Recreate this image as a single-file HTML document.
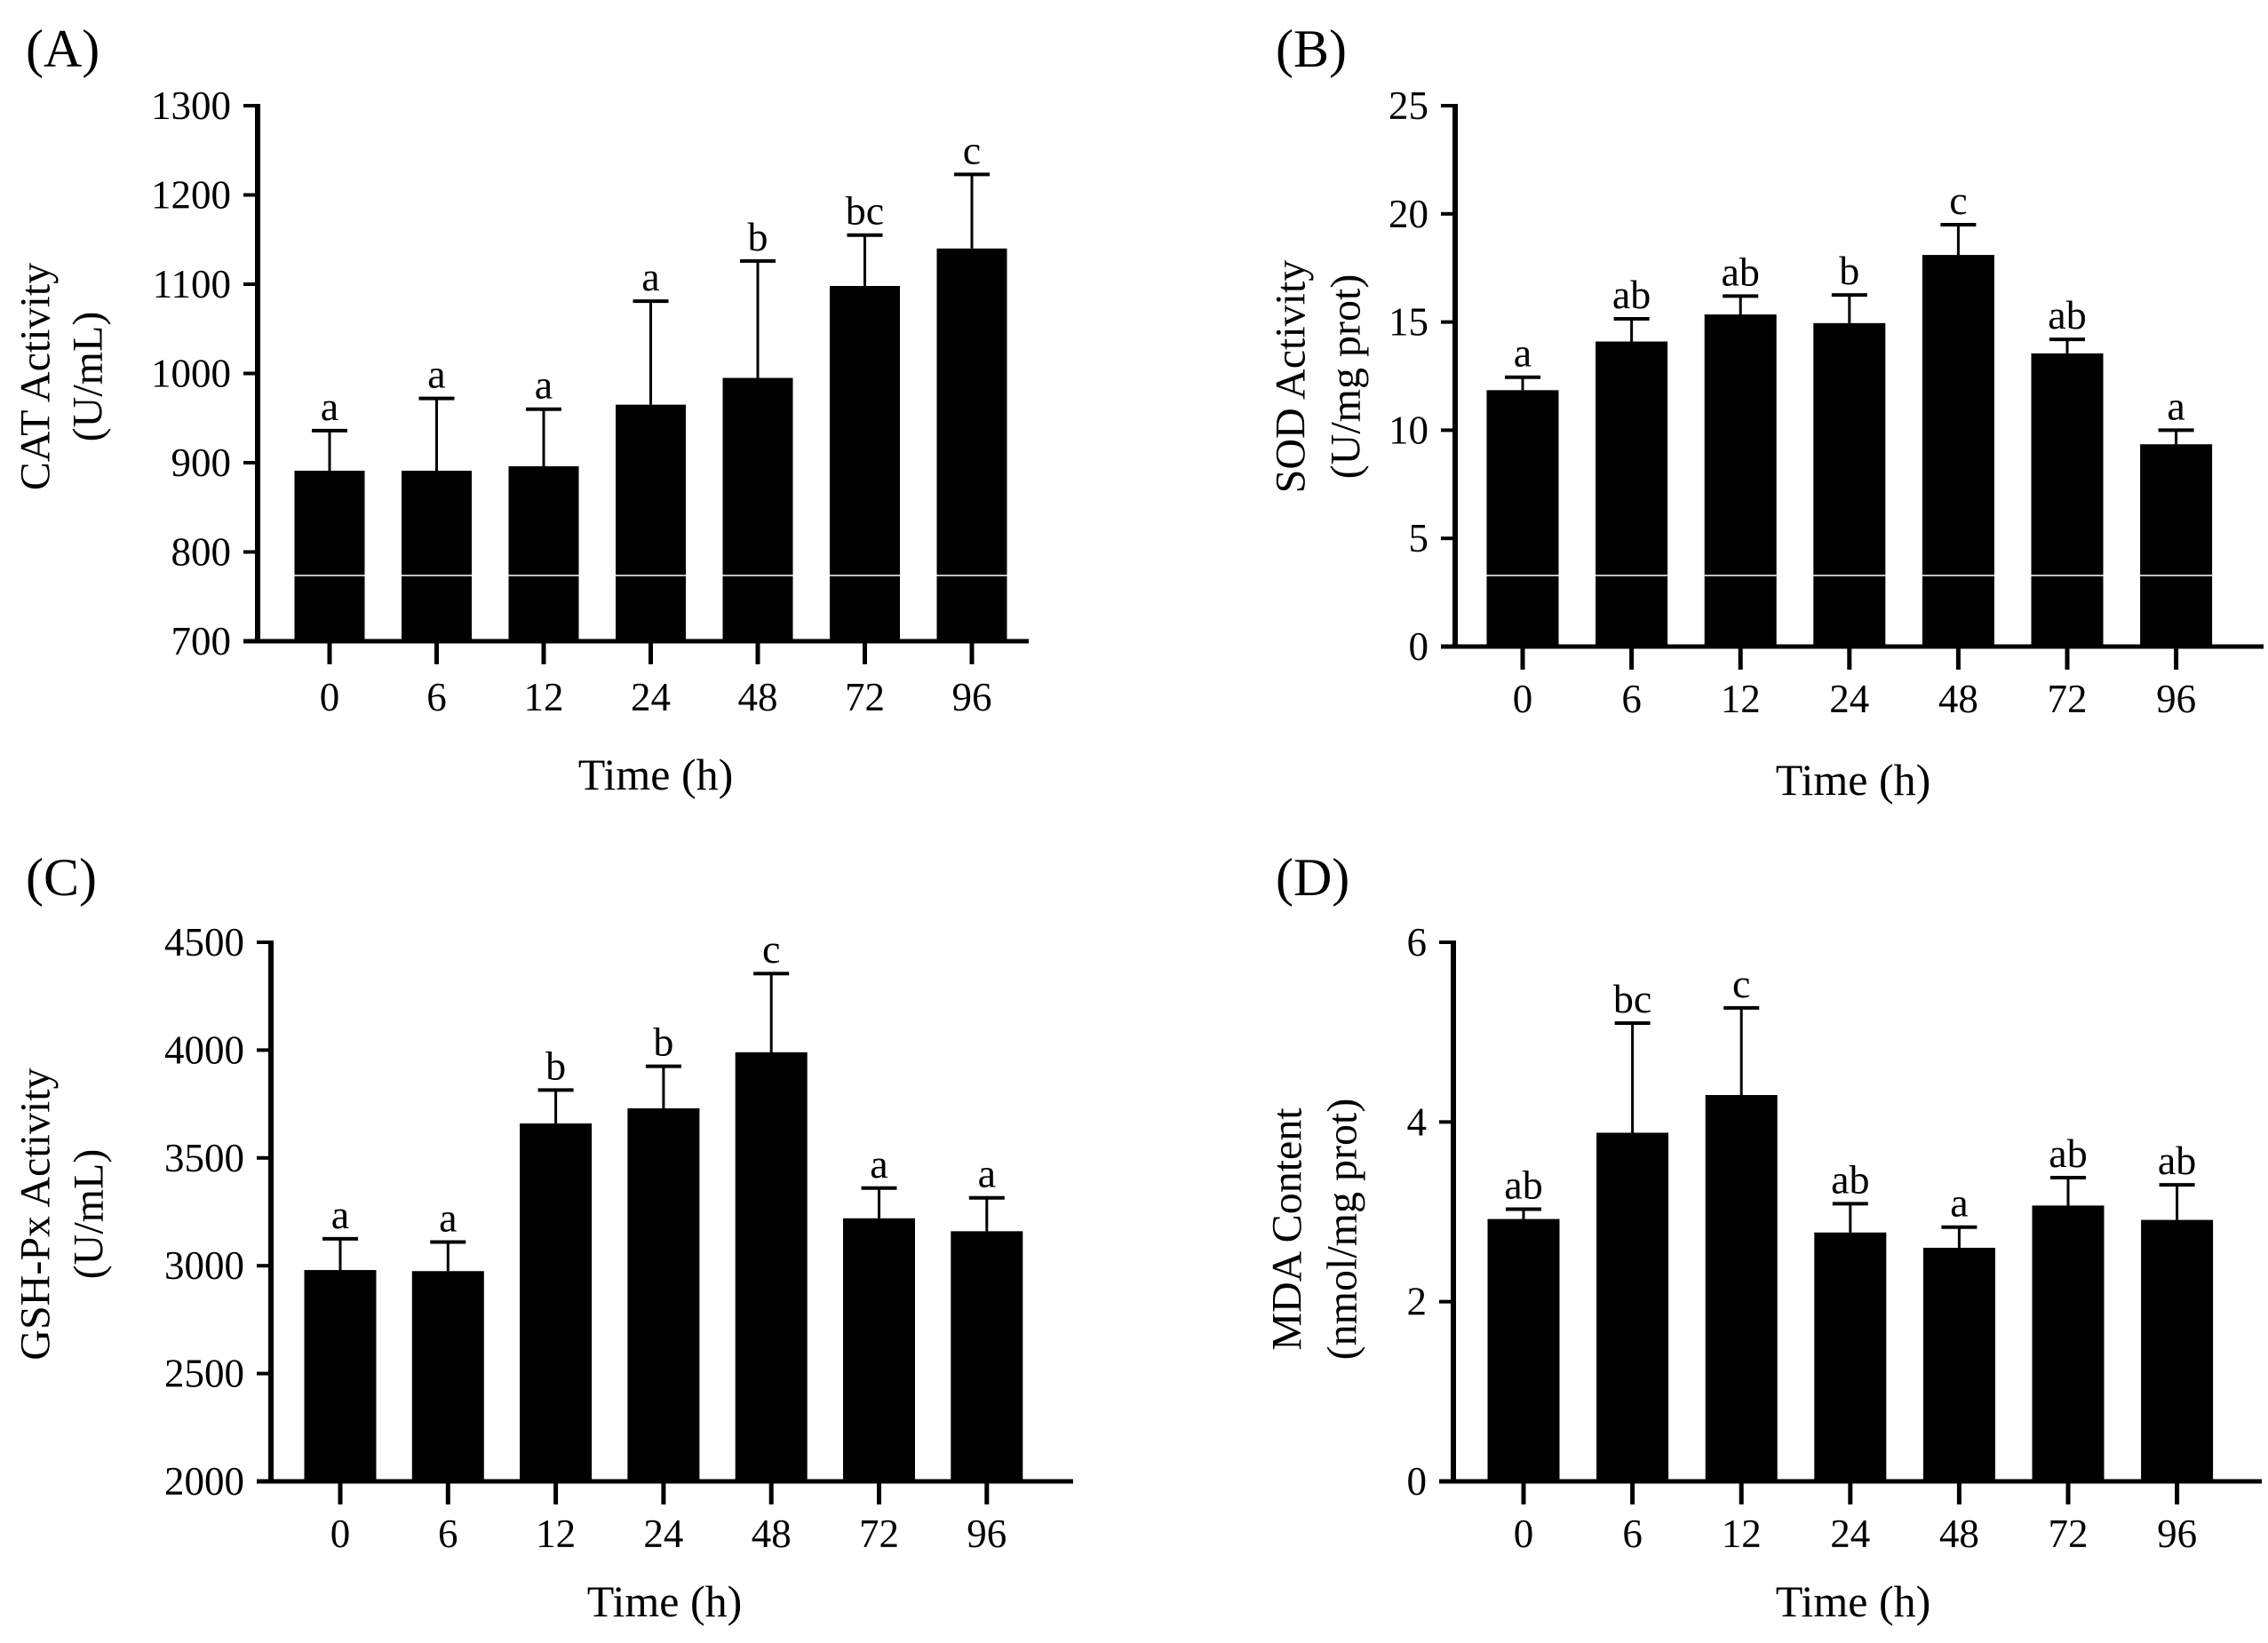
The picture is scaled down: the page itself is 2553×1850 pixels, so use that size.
<!DOCTYPE html>
<html><head><meta charset="utf-8"><style>
html,body{margin:0;padding:0;background:#fff}
svg{display:block}
text{font-family:"Liberation Serif",serif;fill:#000}
</style></head><body>
<svg id="fig" width="2553" height="1850" viewBox="0 0 2553 1850" xmlns="http://www.w3.org/2000/svg"></svg>
<script>
const categories = ["0","6","12","24","48","72","96"];
const catValues = [891, 891, 896, 965, 995, 1098, 1140];
const catErrTop = [936, 972, 960, 1081, 1126, 1155, 1223];
const catLetters = ["a","a","a","a","b","bc","c"];
const catTicks = [700, 800, 900, 1000, 1100, 1200, 1300];
const sodValues = [11.85, 14.1, 15.35, 14.95, 18.1, 13.55, 9.35];
const sodErrTop = [12.45, 15.15, 16.2, 16.25, 19.5, 14.2, 10.0];
const sodLetters = ["a","ab","ab","b","c","ab","a"];
const sodTicks = [0, 5, 10, 15, 20, 25];
const gshValues = [2980, 2975, 3660, 3730, 3990, 3220, 3160];
const gshErrTop = [3125, 3110, 3815, 3925, 4355, 3360, 3315];
const gshLetters = ["a","a","b","b","c","a","a"];
const gshTicks = [2000, 2500, 3000, 3500, 4000, 4500];
const mdaValues = [2.92, 3.88, 4.3, 2.77, 2.6, 3.07, 2.91];
const mdaErrTop = [3.03, 5.1, 5.27, 3.09, 2.83, 3.38, 3.3];
const mdaLetters = ["ab","bc","c","ab","a","ab","ab"];
const mdaTicks = [0, 2, 4, 6];

const NS = "http://www.w3.org/2000/svg";
const svg = document.getElementById('fig');
function mk(tag, attrs, parent){const e=document.createElementNS(NS,tag);for(const k in attrs)e.setAttribute(k,attrs[k]);(parent||svg).appendChild(e);return e;}

const panels = [
 {id:'a',label:'(A)',lx:29,ly:75,ax:290,xEnd:1158,yTop:119,yBot:722,x0:371,step:120.5,bw:79,
  vals:catValues,errs:catErrTop,lets:catLetters,ticks:catTicks,t1:'CAT Activity',t2:'(U/mL)',tx1:40,tx2:99,tcy:424,tickBase:800,timeX:738,timeY:889,white:true},
 {id:'b',label:'(B)',lx:1436,ly:75,ax:1638,xEnd:2548,yTop:119,yBot:728,x0:1714,step:122.6,bw:81,
  vals:sodValues,errs:sodErrTop,lets:sodLetters,ticks:sodTicks,t1:'SOD Activity',t2:'(U/mg prot)',tx1:1453,tx2:1515,tcy:424,tickBase:802,timeX:2086,timeY:895,white:true},
 {id:'c',label:'(C)',lx:29,ly:1008,ax:305,xEnd:1208,yTop:1061,yBot:1668,x0:383,step:121.3,bw:81,
  vals:gshValues,errs:gshErrTop,lets:gshLetters,ticks:gshTicks,t1:'GSH-Px Activity',t2:'(U/mL)',tx1:40,tx2:100,tcy:1367,tickBase:1742,timeX:748,timeY:1820,white:false},
 {id:'d',label:'(D)',lx:1436,ly:1008,ax:1636,xEnd:2546,yTop:1061,yBot:1668,x0:1715,step:122.6,bw:81,
  vals:mdaValues,errs:mdaErrTop,lets:mdaLetters,ticks:mdaTicks,t1:'MDA Content',t2:'(nmol/mg prot)',tx1:1449,tx2:1511,tcy:1384,tickBase:1742,timeX:2086,timeY:1820,white:false}
];

panels.forEach(p=>{
  const g = mk('g',{});
  
  
  const lo = p.ticks[0], hi = p.ticks[p.ticks.length-1];
  const yS = v => p.yBot - (v-lo)/(hi-lo)*(p.yBot-p.yTop);
  const xS = i => p.x0 + i*p.step;

  const lab = mk('text',{x:p.lx,y:p.ly,'font-size':60},g); lab.textContent=p.label;
  
  

  p.vals.forEach((v,i)=>{
    const cx=xS(i), top=yS(v), et=yS(p.errs[i]);
    const eb = mk('line',{x1:cx,x2:cx,y1:top,y2:et,stroke:'#000','stroke-width':3},g);
    
    
    const cap = mk('line',{x1:cx-20,x2:cx+20,y1:et,y2:et,stroke:'#000','stroke-width':4},g);
    
    
    const r = mk('rect',{x:cx-p.bw/2,y:top,width:p.bw,height:p.yBot-top,fill:'#000'},g);
    
    
    const t = mk('text',{x:cx,y:et-12,'font-size':46,'text-anchor':'middle'},g); t.textContent=p.lets[i];
    
    
    if(p.white){
      const w = mk('line',{x1:cx-p.bw/2,x2:cx+p.bw/2,y1:648,y2:648,stroke:'#fff','stroke-width':1.5},g);
      
      
    }
    const xt = mk('line',{x1:cx,x2:cx,y1:p.yBot,y2:p.yBot+26,stroke:'#000','stroke-width':5},g);
    
    
    const xl = mk('text',{x:cx,y:p.tickBase,'font-size':45,'text-anchor':'middle'},g); xl.textContent=categories[i];
    
    
  });

  const ya = mk('line',{x1:p.ax,x2:p.ax,y1:p.yTop-2,y2:p.yBot+2,stroke:'#000','stroke-width':6},g);
  
  
  const xa = mk('line',{x1:p.ax-16,x2:p.xEnd,y1:p.yBot,y2:p.yBot,stroke:'#000','stroke-width':5},g);
  
  
  p.ticks.forEach(tv=>{
    const y=yS(tv);
    const tk = mk('line',{x1:p.ax-16,x2:p.ax,y1:y,y2:y,stroke:'#000','stroke-width':4},g);
    
    
    const tl = mk('text',{x:p.ax-30,y:y+15,'font-size':45,'text-anchor':'end'},g); tl.textContent=tv;
    
    
  });

  const t1 = mk('text',{x:0,y:0,'font-size':48,'text-anchor':'middle','dominant-baseline':'central',transform:`translate(${p.tx1},${p.tcy}) rotate(-90)`},g); t1.textContent=p.t1;
  
  
  const t2 = mk('text',{x:0,y:0,'font-size':48,'text-anchor':'middle','dominant-baseline':'central',transform:`translate(${p.tx2},${p.tcy}) rotate(-90)`},g); t2.textContent=p.t2;
  
  
  const tt = mk('text',{x:p.timeX,y:p.timeY,'font-size':50,'text-anchor':'middle'},g); tt.textContent='Time (h)';
  
  
});
</script>
</body></html>
